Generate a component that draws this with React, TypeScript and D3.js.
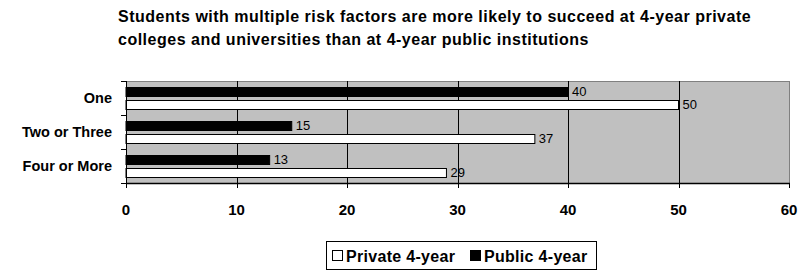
import React from "react";
import * as d3 from "d3";

const titleLines = [
  "Students with multiple risk factors are more likely to succeed at 4-year private",
  "colleges and universities than at 4-year public institutions",
];
const categories = ["One", "Two or Three", "Four or More"];
const seriesNames = ["Public 4-year", "Private 4-year"];
const publicValues = [40, 15, 13];
const privateValues = [50, 37, 29];
const xTickValues = [0, 10, 20, 30, 40, 50, 60];
const legendOrder = ["Private 4-year", "Public 4-year"];

const FONT = "'Liberation Sans', Arial, sans-serif";
const fills: Record<string, string> = { "Public 4-year": "#000000", "Private 4-year": "#ffffff" };

export default function App() {
  const W = 805, H = 272;
  const left = 126, right = 789, top = 81, bottom = 183;
  const x = d3.scaleLinear().domain([0, 60]).range([left, right]);
  const y = d3.scaleBand<string>().domain(categories).range([top, bottom]).padding(0);
  const inner = d3.scaleBand<string>().domain(seriesNames).range([0, y.bandwidth()]).paddingInner(0.31).paddingOuter(0.46);
  const valuesBySeries: Record<string, number[]> = { "Public 4-year": publicValues, "Private 4-year": privateValues };

  return (
    <svg width={W} height={H} style={{ position: "absolute", left: 0, top: 0, background: "#fff" }} fontFamily={FONT}>
      {titleLines.map((t, i) => (
        <text key={i} x={118} y={22 + i * 23} fontSize={16} letterSpacing={0.5} fontWeight="bold" fill="#000">{t}</text>
      ))}
      <rect x={left} y={top} width={right - left} height={bottom - top} fill="#C0C0C0" />
      <line x1={left} x2={right} y1={top + 0.5} y2={top + 0.5} stroke="#808080" />
      <line x1={right + 0.5} x2={right + 0.5} y1={top} y2={bottom} stroke="#808080" />
      {xTickValues.filter(v => v > 0 && v < 60).map(v => (
        <line key={v} x1={Math.round(x(v)) + 0.5} x2={Math.round(x(v)) + 0.5} y1={top} y2={bottom} stroke="#000" />
      ))}
      {categories.map((c, ci) => (
        <g key={c}>
          {seriesNames.map(s => {
            const v = valuesBySeries[s][ci];
            const by = (y(c) as number) + (inner(s) as number);
            const bh = inner.bandwidth();
            return (
              <g key={s}>
                <rect x={x(0)} y={Math.round(by) + 0.5} width={x(v) - x(0)} height={Math.round(bh)} fill={fills[s]} stroke="#000" strokeWidth={1} />
                <text x={x(v) + 4} y={by + bh / 2} dy="0.35em" fontSize={13} fill="#000">{v}</text>
              </g>
            );
          })}
          <text x={112} y={(y(c) as number) + y.bandwidth() / 2} dy="0.35em" textAnchor="end" fontSize={14.5} fontWeight="bold" fill="#000">{c}</text>
        </g>
      ))}
      {/* axes */}
      <line x1={left + 0.5} x2={left + 0.5} y1={top} y2={bottom} stroke="#000" />
      {[...categories.map(c => y(c) as number), bottom].map((v, i) => (
        <line key={i} x1={left - 5} x2={left} y1={Math.round(v) + 0.5} y2={Math.round(v) + 0.5} stroke="#000" />
      ))}
      <line x1={left} x2={right + 1} y1={bottom + 0.5} y2={bottom + 0.5} stroke="#000" strokeWidth={1.5} />
      {xTickValues.map(v => (
        <g key={v}>
          <line x1={Math.round(x(v)) + 0.5} x2={Math.round(x(v)) + 0.5} y1={bottom} y2={bottom + 5} stroke="#000" />
          <text x={x(v)} y={215} textAnchor="middle" fontSize={15} fontWeight="bold" fill="#000">{v}</text>
        </g>
      ))}
      {/* legend */}
      <rect x={326.5} y={241.5} width={270} height={28} fill="#fff" stroke="#000" />
      {legendOrder.map((s, i) => {
        const sx = i === 0 ? 332 : 470;
        return (
          <g key={s}>
            <rect x={sx + 0.5} y={250.5} width={10} height={10} fill={fills[s]} stroke="#000" />
            <text x={sx + 14} y={256} dy="0.35em" fontSize={16} letterSpacing={0.3} fontWeight="bold" fill="#000">{s}</text>
          </g>
        );
      })}
    </svg>
  );
}
